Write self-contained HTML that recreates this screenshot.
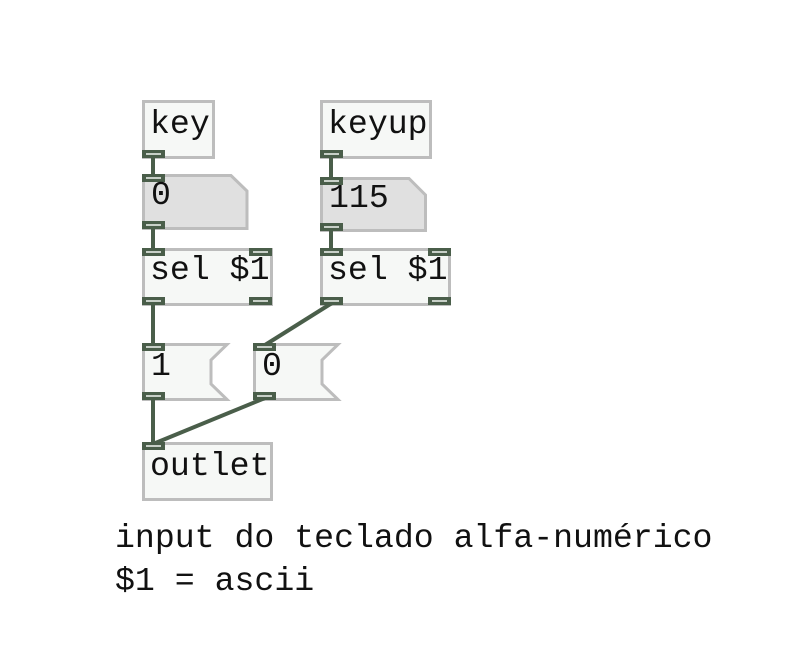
<!DOCTYPE html>
<html><head><meta charset="utf-8"><style>
html,body{margin:0;padding:0;background:#fff;}
svg{display:block}
text{font-family:"Liberation Mono",monospace;font-size:33.2px;fill:#111;}
</style></head><body>
<svg width="794" height="661" viewBox="0 0 794 661" xmlns="http://www.w3.org/2000/svg">
<defs>
<g id="p"><rect x="0" y="0" width="23" height="8" fill="#4a5e4a"/><rect x="4" y="3" width="15" height="2" fill="#c8d0c8"/></g>
</defs>
<g fill="#f6f8f6" stroke="#bdbdbd" stroke-width="3">
<rect x="143.5" y="101.5" width="70" height="56"/>
<rect x="321.5" y="101.5" width="109" height="56"/>
<path d="M143.5 175.5 H231 L247 191 V228.5 H143.5 Z" fill="#e0e0e0"/>
<path d="M321.5 178.5 H409 L425.5 195 V230.5 H321.5 Z" fill="#e0e0e0"/>
<rect x="143.5" y="249.5" width="128" height="55"/>
<rect x="321.5" y="249.5" width="128" height="55"/>
<path d="M143.5 344.5 H227 L211 360 V384 L227 399.5 H143.5 Z"/>
<path d="M254.5 344.5 H338 L322 360 V384 L338 399.5 H254.5 Z"/>
<rect x="143.5" y="443.5" width="128" height="56"/>
</g>
<g stroke="#4a5e4a" stroke-width="4" fill="none">
<line x1="153" y1="156" x2="153" y2="176"/>
<line x1="331" y1="156" x2="331" y2="179"/>
<line x1="153" y1="226" x2="153" y2="250"/>
<line x1="331" y1="229" x2="331" y2="250"/>
<line x1="153" y1="303" x2="153" y2="345"/>
<line x1="332" y1="303" x2="265" y2="345"/>
<line x1="153" y1="398" x2="153" y2="444"/>
<line x1="265" y1="398" x2="153" y2="444"/>
</g>
<use href="#p" x="142" y="150"/>
<use href="#p" x="320" y="150"/>
<use href="#p" x="142" y="174"/>
<use href="#p" x="142" y="221"/>
<use href="#p" x="320" y="177"/>
<use href="#p" x="320" y="223"/>
<use href="#p" x="142" y="248"/><use href="#p" x="249" y="248"/>
<use href="#p" x="142" y="297"/><use href="#p" x="249" y="297"/>
<use href="#p" x="320" y="248"/><use href="#p" x="428" y="248"/>
<use href="#p" x="320" y="297"/><use href="#p" x="428" y="297"/>
<use href="#p" x="142" y="343"/><use href="#p" x="142" y="392"/>
<use href="#p" x="253" y="343"/><use href="#p" x="253" y="392"/>
<use href="#p" x="142" y="442"/>
<g>
<text x="150" y="133">key</text>
<text x="328" y="133">keyup</text>
<text x="151" y="204">0</text>
<text x="329" y="207">115</text>
<text x="150" y="279">sel $1</text>
<text x="328" y="279">sel $1</text>
<text x="151" y="375">1</text>
<text x="262" y="375">0</text>
<text x="150" y="475">outlet</text>
<text x="115" y="547">input do teclado alfa-numérico</text>
<text x="115" y="590">$1 = ascii</text>
</g>
</svg>
</body></html>
